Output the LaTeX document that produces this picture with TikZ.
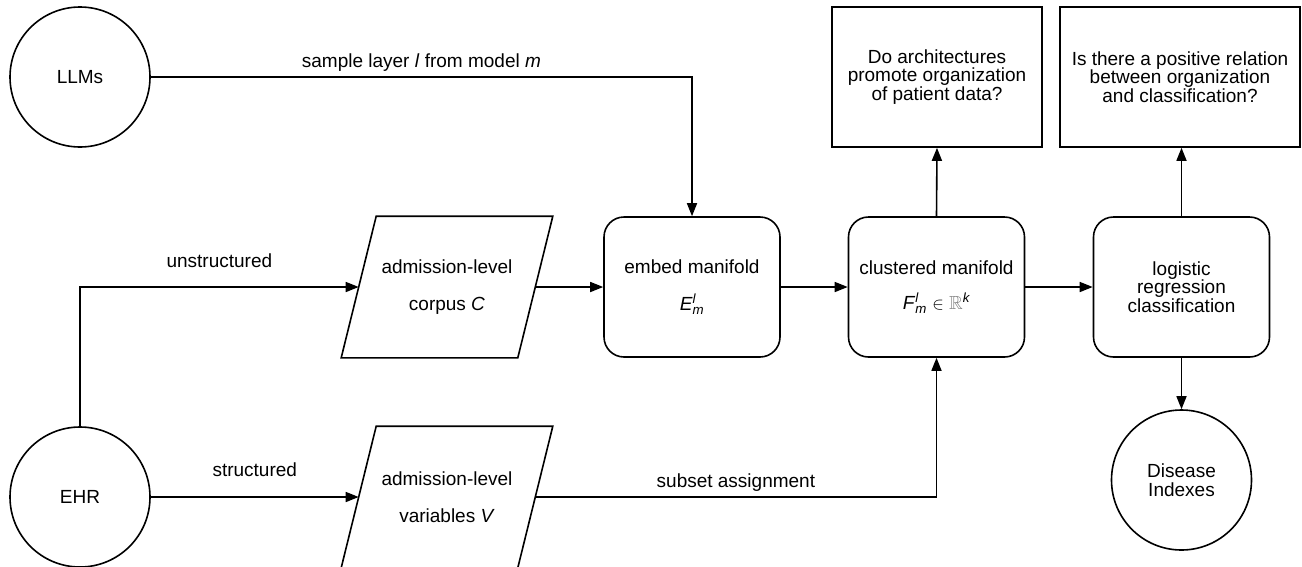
\documentclass[tikz,border=0pt]{standalone}
\usepackage{amsmath,amssymb}
\usepackage{fontspec}
\setmainfont{Liberation Sans}
\usetikzlibrary{arrows.meta,shapes.geometric}
\newcommand{\supsubit}[3]{\textit{#1}$^{\textit{#2}}_{\textit{#3}}$}
\begin{document}
\begin{tikzpicture}[x=1pt,y=-1pt, line width=1.6pt,
  every node/.style={font=\fontsize{19}{18.5}\selectfont},
  arr/.style={-{Triangle[length=13pt,width=10pt]}},
  roundbox/.style={draw, rounded corners=20pt, minimum width=176pt, minimum height=140pt, align=center, inner sep=0pt},
  qbox/.style={draw, minimum height=140pt, align=center, inner sep=0pt},
  circ/.style={draw, circle, minimum size=140pt, inner sep=0pt, align=center},
  para/.style={minimum width=175pt, minimum height=140pt, inner sep=0pt, align=center},
  lab/.style={anchor=base}]
\useasboundingbox (0,0) rectangle (1302,566);
\node[circ] (llm) at (80,77) {LLMs};
\node[circ] (ehr) at (80,497) {EHR};
\node[para] (C) at (447,287) {admission-level\\[18pt] corpus \textit{C}};
\draw ([xshift=17.5pt]C.north west) -- ([xshift=17.5pt]C.north east) -- ([xshift=-17.5pt]C.south east) -- ([xshift=-17.5pt]C.south west) -- cycle;
\node[para] (V) at (447,497) {admission-level\\[18pt] variables \textit{V}};
\draw ([xshift=17.5pt]V.north west) -- ([xshift=17.5pt]V.north east) -- ([xshift=-17.5pt]V.south east) -- ([xshift=-17.5pt]V.south west) -- cycle;
\node[roundbox] (E) at (692,287) {embed manifold\\[18pt] \supsubit{E}{l}{m}};
\node[roundbox] (F) at (936.5,287) {clustered manifold\\[16pt] \supsubit{F}{l}{m} $\in$ \textcolor{gray}{$\mathbb{R}$}$^{\textit{k}}$};
\node[roundbox] (L) at (1181.5,287) {logistic\\regression\\classification};
\node[qbox, minimum width=210pt] (Q1) at (937,77) {Do architectures\\promote organization\\of patient data?};
\node[qbox, minimum width=240pt] (Q2) at (1180,77) {Is there a positive relation\\between organization\\and classification?};
\node[circ] (D) at (1181.5,480) {Disease\\Indexes};
\draw[arr] (llm.east) -| node[pos=0.25, lab, yshift=10pt] {sample layer \textit{l} from model \textit{m}} (E.north);
\draw[arr] (ehr.north) |- node[pos=0.75, lab, yshift=20pt] {unstructured} (C.west);
\draw[arr] (ehr.east) -- node[lab, yshift=21pt] {structured} (V.west);
\draw[arr] (C.east) -- (E.west);
\draw[arr] (E.east) -- (F.west);
\draw[arr] (F.east) -- (L.west);
\draw[arr] (F.north) -- (Q1.south);
\draw[arr] (L.north) -- (L.north |- Q2.south);
\draw[arr] (L.south) -- (D.north);
\draw[arr] (V.east) -| node[pos=0.25, lab, yshift=10pt] {subset assignment} (F.south);
\end{tikzpicture}
\end{document}
